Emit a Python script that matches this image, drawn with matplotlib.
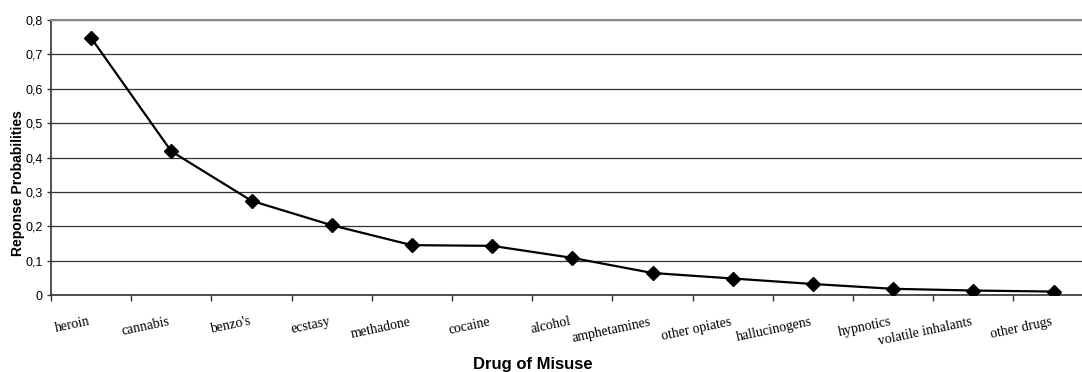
import matplotlib.pyplot as plt
import numpy as np

drugs = ["heroin", "cannabis", "benzo's", "ecstasy", "methadone", "cocaine",
         "alcohol", "amphetamines", "other opiates", "hallucinogens",
         "hypnotics", "volatile inhalants", "other drugs"]
probs = [0.748, 0.418, 0.274, 0.203, 0.145, 0.143, 0.108, 0.064, 0.048,
         0.032, 0.018, 0.013, 0.010]
yticks = [0, 0.1, 0.2, 0.3, 0.4, 0.5, 0.6, 0.7, 0.8]
ytick_labels = ["0", "0,1", "0,2", "0,3", "0,4", "0,5", "0,6", "0,7", "0,8"]

W, H = 1082, 372
fig = plt.figure(figsize=(W / 100, H / 100), dpi=100)
ax = fig.add_axes([51 / W, (H - 295) / H, 1 - 51 / W, 275 / H])

x = np.arange(len(drugs)) + 0.5
ax.plot(x, probs, color='black', lw=1.6, marker='D', markersize=7.5, zorder=3)

# the plot area runs on past the right edge of the picture
ax.set_xlim(0, (W - 51) / 80.2)
ax.set_ylim(0, 0.8)
ax.set_yticks(yticks)
ax.set_yticklabels(ytick_labels, fontfamily='Liberation Sans', fontsize=9)
ax.yaxis.grid(True, color='#333333', lw=0.9)
ax.set_axisbelow(True)

ax.set_xticks(np.arange(0, 13))
ax.set_xticklabels([])
ax.tick_params(axis='x', direction='out', length=4, width=1, color='#333333')
ax.tick_params(axis='y', direction='out', length=3, width=1, color='#333333', pad=3)
for xi, name in zip(x, drugs):
    ax.annotate(name, xy=(xi, 0), xycoords=('data', 'axes fraction'),
                xytext=(-2, -14.5), textcoords='offset points',
                ha='right', va='top', rotation=12, rotation_mode='anchor',
                fontfamily='Liberation Serif', fontsize=10)

ax.spines['right'].set_visible(False)
ax.spines['top'].set_color('#888888')
ax.spines['top'].set_linewidth(1.5)
ax.spines['left'].set_color('#333333')
ax.spines['bottom'].set_color('#333333')
ax.spines['left'].set_linewidth(1.2)
ax.spines['bottom'].set_linewidth(1.2)

fig.text(18 / W, 1 - 183 / H, "Reponse Probabilities", rotation=90,
         ha='center', va='center', fontfamily='Liberation Sans',
         fontweight='bold', fontsize=10)
fig.text(533 / W, 1 - 364 / H, "Drug of Misuse", ha='center', va='center',
         fontfamily='Liberation Sans', fontweight='bold', fontsize=12)

fig.savefig("out.png", dpi=100)
